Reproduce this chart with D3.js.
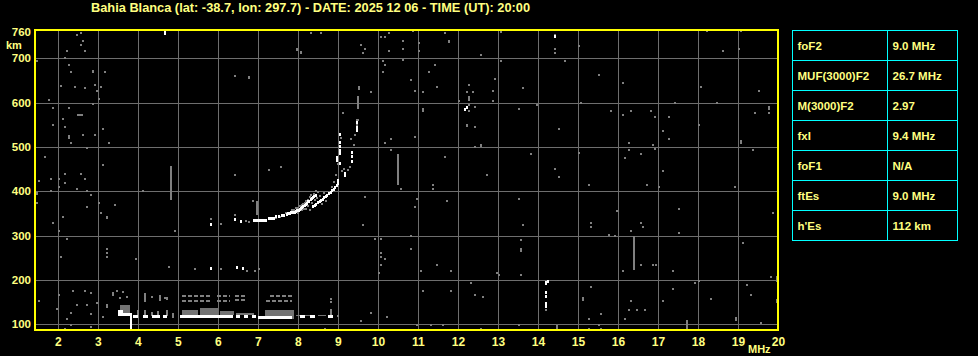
<!DOCTYPE html>
<html>
<head>
<meta charset="utf-8">
<script src="https://cdn.jsdelivr.net/npm/d3@7"></script>
<style>
  body { margin: 0; background: #000; }
  svg { display: block; font-family: "Liberation Sans", Arial, sans-serif; font-weight: bold; }
</style>
</head>
<body>
<svg id="chart" width="978" height="356"></svg>
<script>
// ---- data ----
const title = "Bahia Blanca (lat: -38.7, lon: 297.7) - DATE: 2025 12 06 - TIME (UT): 20:00";
const xTicks = [2, 3, 4, 5, 6, 7, 8, 9, 10, 11, 12, 13, 14, 15, 16, 17, 18, 19, 20];
const yTicks = [100, 200, 300, 400, 500, 600, 700, 760];
const paramNames = ["foF2", "MUF(3000)F2", "M(3000)F2", "fxI", "foF1", "ftEs", "h'Es"];
const paramValues = ["9.0 MHz", "26.7 MHz", "2.97", "9.4 MHz", "N/A", "9.0 MHz", "112 km"];

// strong echoes [MHz, km]
const whiteDots = [
  [5.83, 325], [6.42, 336], [6.57, 331], [5.83, 226], [6.47, 227], [6.62, 225],
  [7.45, 342], [7.52, 344], [7.6, 345], [7.66, 346], [7.72, 348], [7.76, 349], [7.8, 350],
  [7.84, 351], [7.88, 352], [7.92, 353], [7.95, 355], [7.98, 356], [8.02, 357], [8.05, 359],
  [8.08, 361], [8.11, 363], [8.14, 365], [8.17, 367], [8.2, 370], [8.23, 373], [8.26, 376],
  [8.29, 378], [8.32, 381], [8.35, 383], [8.38, 386], [8.41, 388], [8.45, 391],
  [8.38, 366], [8.42, 368], [8.45, 371], [8.5, 374], [8.55, 377], [8.58, 379], [8.62, 382],
  [8.66, 385], [8.7, 388], [8.74, 391], [8.78, 394], [8.82, 397], [8.86, 401], [8.9, 404],
  [8.93, 408], [8.97, 412], [9.0, 418], [9.01, 424], [9.18, 435], [9.18, 441],
  [9.06, 529], [9.06, 511], [9.06, 502], [9.06, 492], [9.06, 485], [9.06, 463],
  [8.98, 470], [8.98, 477], [9.35, 468], [9.35, 478], [9.35, 488],
  [9.47, 536], [9.47, 545], [9.47, 555],
  [14.2, 171], [14.2, 162], [14.25, 196], [14.43, 749], [12.22, 588], [12.18, 585]
];
// strong echo runs [MHz from, MHz to, km]
const whiteRuns = [
  [3.5, 3.62, 128], [3.5, 3.85, 122], [3.88, 4.0, 117], [4.13, 4.25, 117], [4.35, 4.55, 117],
  [4.63, 4.73, 117], [5.05, 6.38, 117], [6.45, 6.55, 117], [6.65, 6.75, 117], [6.85, 6.95, 117],
  [7.0, 7.85, 116], [8.05, 8.18, 117], [8.3, 8.43, 117], [8.76, 8.88, 117],
  [6.88, 7.22, 335], [7.25, 7.42, 339]
];
// strong vertical streaks [MHz, km from, km to]
const whiteBars = [[3.83, 87, 118], [4.68, 752, 765], [14.2, 137, 150], [14.2, 188, 197]];

// weak echoes / noise [MHz, km]
const grayDots = [
  [2.48, 753], [2.58, 758], [2.62, 740], [2.58, 731], [2.23, 717], [2.68, 717], [1.47, 695],
  [2.17, 700], [2.28, 686], [2.32, 668], [3.17, 668], [2.07, 638], [2.42, 636], [2.67, 634],
  [2.93, 640], [2.97, 627], [3.07, 636], [3.02, 609], [1.78, 606], [2.87, 596], [1.87, 587],
  [2.27, 587], [2.51, 573], [2.56, 573], [2.61, 573], [2.12, 564], [1.87, 550], [2.17, 546],
  [3.12, 541], [2.62, 528], [2.93, 528], [2.32, 510], [3.27, 510], [2.72, 497], [1.67, 478],
  [3.12, 460], [2.17, 438], [2.57, 438], [1.82, 428], [2.02, 428], [2.67, 428], [1.52, 424],
  [2.17, 419], [2.02, 410], [2.47, 406], [1.82, 401], [2.72, 401], [2.82, 392], [3.02, 374],
  [1.47, 374], [3.42, 370], [2.72, 365], [3.07, 352], [2.12, 343], [1.87, 329], [2.22, 293],
  [3.22, 270], [3.22, 261], [3.22, 252], [2.07, 252], [2.02, 167], [1.52, 153], [2.37, 176],
  [2.67, 176], [2.82, 171], [2.47, 144], [2.72, 144], [3.22, 144], [3.22, 140], [3.37, 167],
  [3.47, 176], [1.97, 135], [2.32, 126], [2.82, 122], [2.22, 112], [3.12, 117], [2.32, 99],
  [2.82, 94], [2.17, 90],
  [6.42, 659], [6.42, 437], [4.13, 400], [3.43, 370], [6.87, 379], [5.83, 338], [6.07, 326],
  [6.42, 347], [4.93, 311], [3.96, 248], [4.77, 230], [5.42, 225], [5.82, 228], [6.07, 224],
  [6.72, 221], [6.92, 221], [7.02, 225], [3.39, 170], [3.64, 173], [3.72, 162], [2.97, 147],
  [4.35, 162],
  [8.33, 758], [8.58, 758], [9.58, 731], [9.68, 722], [9.63, 713], [10.08, 749], [10.18, 749],
  [10.28, 758], [10.28, 717], [10.13, 695], [10.18, 686], [10.13, 668], [9.83, 623],
  [9.13, 577], [9.43, 528], [9.33, 519], [10.33, 519], [10.18, 510], [10.33, 492], [7.28, 449],
  [7.58, 455], [6.43, 437], [9.68, 388], [9.63, 325], [9.93, 293], [10.08, 293], [10.08, 261],
  [10.08, 252], [10.18, 248], [10.08, 234], [10.03, 216], [7.03, 225], [9.83, 126],
  [10.23, 117], [9.58, 108], [8.68, 90],
  [6.7, 333], [6.78, 331], [7.45, 340], [7.55, 343], [7.65, 345], [7.7, 352], [7.85, 358],
  [7.95, 362], [8.05, 366], [8.12, 372], [8.2, 378], [8.3, 386], [8.4, 393], [8.5, 398],
  [8.0, 352], [8.1, 357], [8.15, 360], [8.25, 366], [8.35, 373], [8.42, 380], [8.48, 385],
  [8.55, 390], [8.25, 381], [8.0, 362], [8.1, 368], [7.9, 358], [8.18, 374], [8.32, 392],
  [8.2, 360], [8.3, 358], [8.6, 372], [8.7, 378], [8.45, 401], [8.65, 395], [8.85, 410],
  [8.9, 420], [8.95, 437], [8.97, 475], [9.1, 445], [9.15, 450], [9.0, 462], [9.08, 520],
  [9.12, 576], [9.25, 448], [9.3, 455], [9.4, 505], [9.5, 560],
  [10.88, 762], [11.68, 758], [10.63, 740], [11.03, 735], [10.63, 722], [11.03, 717],
  [12.58, 708], [10.63, 696], [13.08, 695], [11.43, 686], [11.28, 668], [12.93, 654],
  [10.83, 650], [11.48, 636], [13.63, 632], [10.93, 627], [11.13, 623], [12.23, 623],
  [12.38, 623], [12.28, 640], [12.88, 627], [12.03, 604], [12.88, 604], [12.28, 595],
  [12.28, 580], [12.43, 591], [13.53, 586], [12.43, 546], [13.98, 595], [10.93, 523],
  [12.43, 500], [13.83, 483], [11.68, 478], [12.73, 437], [11.38, 415], [11.38, 406],
  [10.58, 406], [10.98, 383], [11.73, 379], [10.93, 365], [13.53, 383], [13.63, 325],
  [10.83, 298], [13.58, 289], [10.83, 270], [11.48, 234], [11.08, 221], [11.83, 221],
  [12.98, 216], [13.03, 212], [13.58, 212], [12.33, 194], [11.13, 176], [11.83, 176],
  [12.43, 167], [12.63, 162], [10.98, 99], [11.33, 99], [11.63, 99], [12.58, 90], [13.53, 99],
  [14.43, 753], [14.43, 722], [14.43, 713], [15.03, 727], [14.68, 695], [15.53, 663],
  [16.13, 645], [15.08, 600], [15.83, 582], [16.33, 582], [16.83, 582], [16.13, 573],
  [16.93, 568], [17.28, 568], [17.43, 600], [17.13, 537], [17.28, 519], [14.53, 541],
  [16.28, 510], [16.88, 505], [16.93, 496], [15.03, 487], [16.28, 492], [16.58, 483],
  [16.18, 474], [17.13, 446], [14.43, 451], [14.53, 433], [15.28, 415], [16.73, 415],
  [17.03, 410], [17.53, 361], [15.98, 356], [15.33, 329], [15.33, 320], [16.58, 329],
  [16.63, 320], [16.33, 311], [15.78, 302], [15.93, 298], [17.53, 306], [16.58, 234],
  [16.88, 234], [16.95, 234], [16.13, 221], [17.38, 221], [15.33, 185], [17.38, 180],
  [16.33, 153], [17.13, 153], [16.28, 131], [16.48, 131], [16.68, 131], [15.58, 122],
  [15.28, 112], [16.18, 112], [15.53, 99], [15.28, 90], [15.58, 90], [14.2, 131],
  [18.23, 762], [19.08, 762], [18.63, 717], [19.03, 722], [18.08, 636], [19.53, 627],
  [18.48, 600], [19.43, 577], [19.78, 577], [18.03, 550], [19.38, 492], [18.93, 410],
  [17.53, 361], [19.88, 352], [17.53, 306], [19.13, 284], [19.83, 207], [17.93, 194],
  [18.03, 198], [19.23, 189], [19.33, 167], [18.33, 158], [19.58, 103],
  [3.55, 160], [4.55, 162], [4.68, 159], [8.82, 150], [8.82, 158], [9.0, 118]
];
// weak vertical streaks [MHz, km from, km to]
const grayBars = [
  [4.82, 381, 456], [10.5, 414, 484], [16.4, 222, 299], [17.73, 87, 110], [14.48, 87, 98],
  [19.98, 196, 208], [19.98, 148, 156], [18.96, 108, 116], [6.98, 346, 378], [12.28, 604, 615],
  [11.13, 580, 588], [12.58, 500, 506], [13.08, 757, 764], [11.78, 734, 741], [9.53, 628, 638],
  [15.13, 153, 161], [7.98, 716, 724], [8.08, 709, 716], [2.87, 666, 674], [2.27, 518, 526],
  [3.22, 337, 345], [1.47, 391, 399], [6.77, 653, 660], [6.97, 371, 378], [19.08, 507, 515],
  [19.78, 584, 592], [9.5, 585, 615], [9.47, 545, 562], [12.23, 544, 552], [13.58, 264, 272],
  [4.0, 115, 132], [4.18, 115, 133], [4.35, 118, 128], [4.51, 115, 130], [4.72, 118, 131],
  [4.88, 115, 125], [4.18, 150, 170], [4.55, 153, 165], [4.72, 155, 162], [8.82, 120, 135],
  [2.02, 308, 313], [11.13, 579, 588]
];
// weak blobs [MHz from, MHz to, km from, km to]
const grayBlocks = [
  [3.55, 3.8, 124, 143], [5.1, 5.5, 120, 133], [5.55, 6.0, 119, 136], [6.05, 6.4, 120, 130],
  [6.45, 6.9, 120, 126], [7.18, 7.9, 112, 133], [7.95, 8.4, 118, 121], [8.5, 8.7, 118, 121]
];
// weak dotted rows [MHz from, MHz to, km]
const grayRows = [
  [5.1, 5.8, 163], [5.1, 5.8, 153], [5.97, 6.3, 163], [5.97, 6.3, 153], [6.43, 6.68, 163],
  [6.43, 6.68, 155], [7.3, 7.85, 163], [7.2, 7.85, 153]
];

// ---- chart ----
const svg = d3.select('#chart');
const yellow = '#ffff80';
const gridColor = '#6e6e6e';
const grayEcho = '#808080';

svg.append('rect').attr('width', 978).attr('height', 356).attr('fill', '#000');

const x = d3.scaleLinear().domain([1.43, 20]).range([35, 778]);
const y = d3.scaleLinear().domain([87, 765]).range([330, 29.5]);

svg.append('text')
  .attr('x', 91).attr('y', 12)
  .attr('fill', yellow).attr('font-size', 12)
  .attr('textLength', 439).attr('lengthAdjust', 'spacingAndGlyphs')
  .text(title);

// grid + tick labels
svg.append('g')
  .attr('transform', 'translate(0,330)')
  .call(d3.axisBottom(x).tickValues(xTicks).tickSize(-300).tickPadding(7).tickFormat(d3.format('d')))
  .call(g => g.attr('font-family', null).attr('font-size', null))
  .call(g => g.select('.domain').remove())
  .call(g => g.selectAll('line').attr('stroke', gridColor).attr('shape-rendering', 'crispEdges')
    .filter(d => d === 20).remove())
  .call(g => g.selectAll('text').attr('fill', yellow).attr('font-size', 12));

svg.append('g')
  .attr('transform', 'translate(35,0)')
  .call(d3.axisLeft(y).tickValues(yTicks).tickSize(-743).tickPadding(4).tickFormat(d3.format('d')))
  .call(g => g.attr('font-family', null).attr('font-size', null))
  .call(g => g.select('.domain').remove())
  .call(g => g.selectAll('line').attr('stroke', gridColor).attr('shape-rendering', 'crispEdges')
    .filter(d => d === 760).remove())
  .call(g => g.selectAll('text').attr('fill', yellow).attr('font-size', 11.5));

svg.append('text').attr('x', 6).attr('y', 49).attr('fill', yellow).attr('font-size', 11).text('km');
svg.append('text').attr('x', 748).attr('y', 353).attr('fill', yellow).attr('font-size', 11).text('MHz');

// echoes
const marks = svg.append('g').attr('shape-rendering', 'crispEdges');

marks.selectAll('.gblock').data(grayBlocks).enter().append('rect')
  .attr('x', d => x(d[0])).attr('width', d => x(d[1]) - x(d[0]))
  .attr('y', d => y(d[3])).attr('height', d => y(d[2]) - y(d[3]))
  .attr('fill', grayEcho).attr('opacity', 0.9);

marks.selectAll('.grow').data(grayRows).enter().append('line')
  .attr('x1', d => x(d[0])).attr('x2', d => x(d[1]))
  .attr('y1', d => y(d[2])).attr('y2', d => y(d[2]))
  .attr('stroke', grayEcho).attr('stroke-width', 2).attr('stroke-dasharray', '4 2');

marks.selectAll('.gbar').data(grayBars).enter().append('rect')
  .attr('x', d => x(d[0]) - 1).attr('width', 2)
  .attr('y', d => y(d[2])).attr('height', d => y(d[1]) - y(d[2]))
  .attr('fill', grayEcho);

marks.selectAll('.gdot').data(grayDots).enter().append('rect')
  .attr('x', d => x(d[0]) - 1).attr('y', d => y(d[1]) - 1)
  .attr('width', 2).attr('height', 2).attr('fill', grayEcho);

marks.selectAll('.wrun').data(whiteRuns).enter().append('rect')
  .attr('x', d => x(d[0])).attr('width', d => x(d[1]) - x(d[0]))
  .attr('y', d => y(d[2]) - 1.5).attr('height', 3)
  .attr('fill', '#fff');

marks.selectAll('.wbar').data(whiteBars).enter().append('rect')
  .attr('x', d => x(d[0]) - 1).attr('width', 2)
  .attr('y', d => y(d[2])).attr('height', d => y(d[1]) - y(d[2]))
  .attr('fill', '#fff');

marks.selectAll('.wdot').data(whiteDots).enter().append('rect')
  .attr('x', d => x(d[0]) - 1).attr('y', d => y(d[1]) - 1.5)
  .attr('width', 2).attr('height', 3).attr('fill', '#fff');

// frame
svg.append('rect')
  .attr('x', 35).attr('y', 29.5).attr('width', 743).attr('height', 300.5)
  .attr('fill', 'none').attr('stroke', '#ffff00').attr('stroke-width', 2)
  .attr('shape-rendering', 'crispEdges');

// parameter table
const rowH = 30, tx = 792.5, ty = 30.5, col1 = 95, col2 = 70;
const table = svg.append('g').attr('shape-rendering', 'crispEdges');
table.selectAll('.cell').data(paramNames).enter().append('g')
  .each(function(d, i) {
    const g = d3.select(this);
    g.append('rect').attr('x', tx).attr('y', ty + i * rowH).attr('width', col1).attr('height', rowH)
      .attr('fill', 'none').attr('stroke', '#00ffff');
    g.append('rect').attr('x', tx + col1).attr('y', ty + i * rowH).attr('width', col2).attr('height', rowH)
      .attr('fill', 'none').attr('stroke', '#00ffff');
    g.append('text').attr('x', tx + 5).attr('y', ty + i * rowH + 19.5)
      .attr('fill', yellow).attr('font-size', 11.5).text(d);
    g.append('text').attr('x', tx + col1 + 5).attr('y', ty + i * rowH + 19.5)
      .attr('fill', yellow).attr('font-size', 11.5).text(paramValues[i]);
  });
</script>
</body>
</html>
